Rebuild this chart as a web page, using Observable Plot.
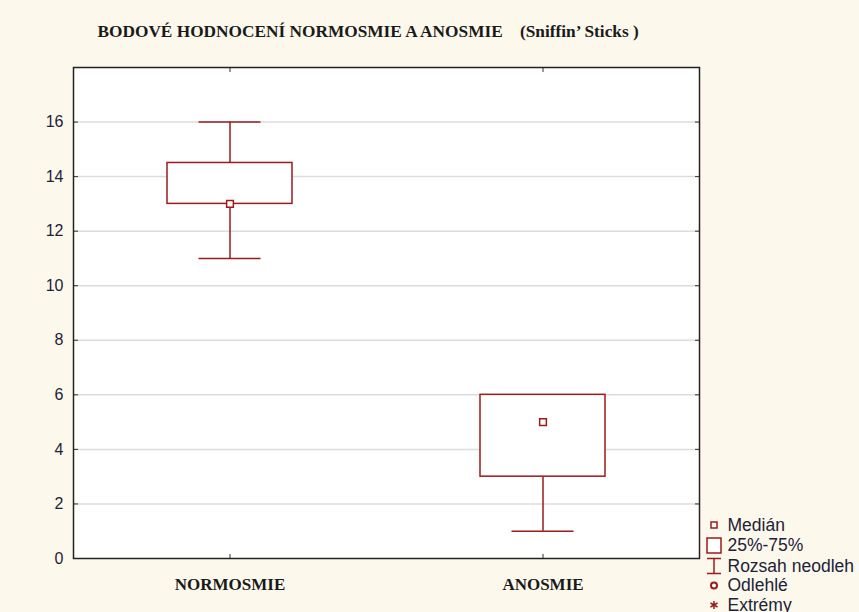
<!DOCTYPE html>
<html>
<head>
<meta charset="utf-8">
<script src="https://cdn.jsdelivr.net/npm/d3@7"></script>
<script src="https://cdn.jsdelivr.net/npm/@observablehq/plot@0.6"></script>
<style>
  html, body { margin: 0; padding: 0; background: #fdf8ec; overflow: hidden; }
  #chart svg { display: block; background: transparent; }
</style>
</head>
<body>
<div id="chart"></div>
<script>
// Sniffin' Sticks scores per group (box = quartiles, whiskers = non-outlier range)
const groups = ["NORMOSMIE", "ANOSMIE"];
const whiskerLow = [11, 1];
const quartile1 = [13, 3];
const median = [13, 5];
const quartile3 = [14.5, 6];
const whiskerHigh = [16, 6];
const yTicks = [0, 2, 4, 6, 8, 10, 12, 14, 16];

const titleText = "BODOVÉ HODNOCENÍ NORMOSMIE A ANOSMIE\u00a0\u00a0\u00a0\u00a0(Sniffin’ Sticks )";
const legendLabels = ["Medián", "25%-75%", "Rozsah neodleh", "Odlehlé", "Extrémy"];

const rows = groups.map((g, i) => ({
  group: g,
  lo: whiskerLow[i],
  q1: quartile1[i],
  med: median[i],
  q3: quartile3[i],
  hi: whiskerHigh[i]
}));

const red = "#9a1b1b";
const ink = "#1d2238";

const chart = Plot.plot({
  width: 859,
  height: 612,
  marginLeft: 73,
  marginRight: 160,
  marginTop: 67,
  marginBottom: 54,
  style: { background: "transparent", overflow: "visible" },
  x: { type: "band", domain: groups, paddingInner: 0.6, paddingOuter: 0.3, label: null },
  y: { domain: [0, 18], label: null },
  marks: [
    Plot.frame({ fill: "white", stroke: null }),
    Plot.gridY(yTicks.filter(d => d > 0), { stroke: "#dcdcdc", strokeOpacity: 1, strokeWidth: 1.5 }),
    // y labels
    Plot.axisY(yTicks, {
      anchor: "left", tickSize: 0, tickPadding: 10, label: null,
      fontSize: 16, fontFamily: "Liberation Sans, Arial, sans-serif", fill: ink
    }),
    // inward ticks on left and right edges
    Plot.axisY(yTicks.filter(d => d > 0), { anchor: "left", tickSize: -5, tickFormat: () => "", label: null, stroke: "#333" }),
    Plot.axisY(yTicks.filter(d => d > 0), { anchor: "right", tickSize: -5, tickFormat: () => "", label: null, stroke: "#333" }),
    // category labels and inward ticks top/bottom
    Plot.axisX({
      anchor: "bottom", tickSize: 0, tickPadding: 19, label: null,
      fontSize: 17, fontWeight: "bold", fontFamily: "Liberation Serif, Times New Roman, serif", fill: "#1a1a1a"
    }),
    Plot.axisX({ anchor: "bottom", tickSize: -4, tickFormat: () => "", label: null, stroke: "#333" }),
    Plot.axisX({ anchor: "top", tickSize: -4, tickFormat: () => "", label: null, stroke: "#333" }),
    // whiskers
    Plot.ruleX(rows, { x: "group", y1: "lo", y2: "hi", stroke: red, strokeWidth: 1.5 }),
    Plot.tickY(rows, { x: "group", y: "lo", stroke: red, strokeWidth: 1.5, insetLeft: 31.5, insetRight: 31.5 }),
    Plot.tickY(rows, { x: "group", y: "hi", stroke: red, strokeWidth: 1.5, insetLeft: 31.5, insetRight: 31.5 }),
    // interquartile box
    Plot.barY(rows, { x: "group", y1: "q1", y2: "q3", fill: "white", stroke: red, strokeWidth: 1.5 }),
    // median marker
    Plot.dot(rows, { x: "group", y: "med", symbol: "square", r: 3.8, fill: "white", stroke: red, strokeWidth: 1.5 }),
    Plot.frame({ stroke: "#222", strokeWidth: 1.5 }),
    // title
    Plot.text([titleText], {
      frameAnchor: "top-left", textAnchor: "start", lineAnchor: "bottom",
      dx: 24, dy: -31, fontSize: 17.3, fontWeight: "bold",
      fontFamily: "Liberation Serif, Times New Roman, serif", fill: "#1a1a1a"
    })
  ]
});

document.getElementById("chart").appendChild(chart);

// legend, right of the plot frame
const svg = d3.select(chart);
const lg = svg.append("g").attr("transform", "translate(714,0)");
const rowY = [525, 545.5, 566, 585.5, 605];
const sw = 1.5;
// median
lg.append("rect").attr("x", -3).attr("y", rowY[0] - 3).attr("width", 6).attr("height", 6)
  .attr("fill", "white").attr("stroke", red).attr("stroke-width", sw);
// 25%-75%
lg.append("rect").attr("x", -7).attr("y", rowY[1] - 7.5).attr("width", 14).attr("height", 15)
  .attr("fill", "white").attr("stroke", red).attr("stroke-width", sw);
// range
lg.append("path").attr("d", `M-7,${rowY[2] - 7.5}H7M0,${rowY[2] - 7.5}V${rowY[2] + 7.5}M-7,${rowY[2] + 7.5}H7`)
  .attr("fill", "none").attr("stroke", red).attr("stroke-width", sw);
// outliers
lg.append("circle").attr("cx", 0).attr("cy", rowY[3]).attr("r", 3)
  .attr("fill", "white").attr("stroke", red).attr("stroke-width", 2);
// extremes
lg.append("path")
  .attr("d", `M0,${rowY[4] - 4}V${rowY[4] + 4}M-3.5,${rowY[4] - 2}L3.5,${rowY[4] + 2}M-3.5,${rowY[4] + 2}L3.5,${rowY[4] - 2}`)
  .attr("stroke", red).attr("stroke-width", 1.5);
lg.selectAll("text.lab").data(legendLabels).join("text")
  .attr("class", "lab")
  .attr("x", 13.5)
  .attr("y", (d, i) => rowY[i] + 5.5)
  .attr("text-anchor", "start")
  .attr("font-family", "Liberation Sans, Arial, sans-serif")
  .attr("font-size", 17.5)
  .attr("fill", ink)
  .text(d => d);
</script>
</body>
</html>
